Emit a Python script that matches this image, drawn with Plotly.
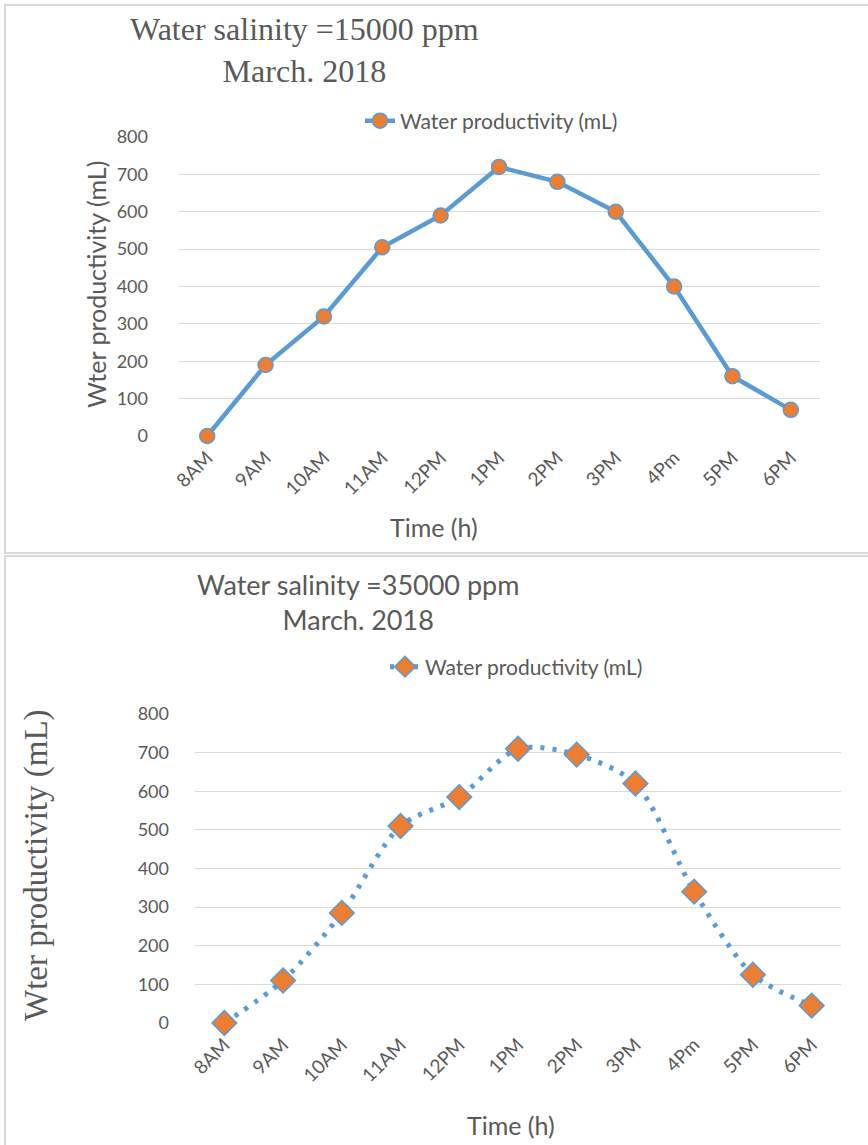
import plotly.graph_objects as go

# Hourly readings (March 2018)
hours = ["8AM", "9AM", "10AM", "11AM", "12PM", "1PM", "2PM", "3PM", "4Pm", "5PM", "6PM"]
prod_15000 = [0, 190, 320, 505, 590, 720, 680, 600, 400, 160, 70]
prod_35000 = [0, 110, 285, 510, 585, 710, 695, 620, 340, 125, 45]
y_ticks = [0, 100, 200, 300, 400, 500, 600, 700, 800]

W, H = 868, 1145
BLUE = "#5B9BD5"
ORANGE = "#ED7D31"
GREY_TXT = "#595959"
GRID = "#D9D9D9"
SANS = "Lato, 'Open Sans', sans-serif"
SERIF = "'Liberation Serif', 'Times New Roman', serif"


def px_x(x):
    return x / W


def px_y(y):
    return 1 - y / H


fig = go.Figure()

fig.add_trace(go.Scatter(
    x=hours, y=prod_15000, mode="lines+markers", name="Water productivity (mL)",
    line=dict(color=BLUE, width=4.5),
    marker=dict(symbol="circle", size=15, color=ORANGE, line=dict(color=BLUE, width=1.5)),
    cliponaxis=False, xaxis="x", yaxis="y", legend="legend",
))

fig.add_trace(go.Scatter(
    x=hours, y=prod_35000, mode="lines+markers", name="Water productivity (mL)",
    line=dict(color=BLUE, width=5, dash="4px,8px", shape="spline", smoothing=0.8),
    marker=dict(symbol="diamond", size=19, color=ORANGE, line=dict(color=BLUE, width=1.5)),
    cliponaxis=False, xaxis="x2", yaxis="y2", legend="legend2",
))

xaxis_common = dict(
    type="category", categoryorder="array", categoryarray=hours,
    range=[-0.5, len(hours) - 0.5], showgrid=False, zeroline=False,
    showline=False, tickangle=-45, ticks="", automargin=False, ticklabelstandoff=6,
    tickfont=dict(family=SANS, size=19, color=GREY_TXT),
)
yaxis_common = dict(
    range=[0, 800], tickvals=y_ticks, showgrid=True, gridcolor=GRID, gridwidth=1.3,
    zeroline=False, showline=False, ticks="", automargin=False,
    tickfont=dict(family=SANS, size=18, color=GREY_TXT),
)

fig.update_layout(
    width=W, height=H,
    margin=dict(l=0, r=0, t=0, b=0, autoexpand=False),
    paper_bgcolor="white", plot_bgcolor="white",
    xaxis=dict(domain=[px_x(178), px_x(820)], anchor="y", **xaxis_common),
    yaxis=dict(domain=[px_y(436), px_y(137)], anchor="x", ticklabelstandoff=29, **yaxis_common),
    xaxis2=dict(domain=[px_x(195), px_x(841)], anchor="y2", **xaxis_common),
    yaxis2=dict(domain=[px_y(1023), px_y(714)], anchor="x2", ticklabelstandoff=25, **yaxis_common),
    legend=dict(x=px_x(360), y=px_y(121), xanchor="left", yanchor="middle",
                font=dict(family=SANS, size=21, color=GREY_TXT), bgcolor="rgba(0,0,0,0)"),
    legend2=dict(x=px_x(385), y=px_y(667), xanchor="left", yanchor="middle",
                 font=dict(family=SANS, size=21, color=GREY_TXT), bgcolor="rgba(0,0,0,0)"),
    showlegend=True,
)

# Chart frames
fig.add_shape(type="rect", xref="paper", yref="paper",
              x0=px_x(5), x1=px_x(880), y0=px_y(553), y1=px_y(5),
              line=dict(color=GRID, width=2), layer="below")
fig.add_shape(type="rect", xref="paper", yref="paper",
              x0=px_x(5), x1=px_x(880), y0=px_y(1160), y1=px_y(556),
              line=dict(color=GRID, width=2), layer="below")

annotations = [
    # top chart
    dict(text="Water salinity =15000 ppm<br>March. 2018", x=px_x(304), y=px_y(50),
         font=dict(family=SERIF, size=32, color=GREY_TXT)),
    dict(text="Wter productivity (mL)", x=px_x(96), y=px_y(285), textangle=-90,
         font=dict(family=SANS, size=25, color=GREY_TXT)),
    dict(text="Time (h)", x=px_x(434), y=px_y(527),
         font=dict(family=SANS, size=25, color=GREY_TXT)),
    # bottom chart
    dict(text="Water salinity =35000 ppm<br>March. 2018", x=px_x(358), y=px_y(602),
         font=dict(family=SANS, size=27, color=GREY_TXT)),
    dict(text="Wter productivity (mL)", x=px_x(36), y=px_y(865), textangle=-90,
         font=dict(family=SERIF, size=33, color=GREY_TXT)),
    dict(text="Time (h)", x=px_x(511), y=px_y(1125),
         font=dict(family=SANS, size=25, color=GREY_TXT)),
]
for a in annotations:
    fig.add_annotation(xref="paper", yref="paper", showarrow=False,
                       xanchor="center", yanchor="middle", align="center", **a)

fig.write_html("out.html", post_script="document.body.style.margin='0';")
